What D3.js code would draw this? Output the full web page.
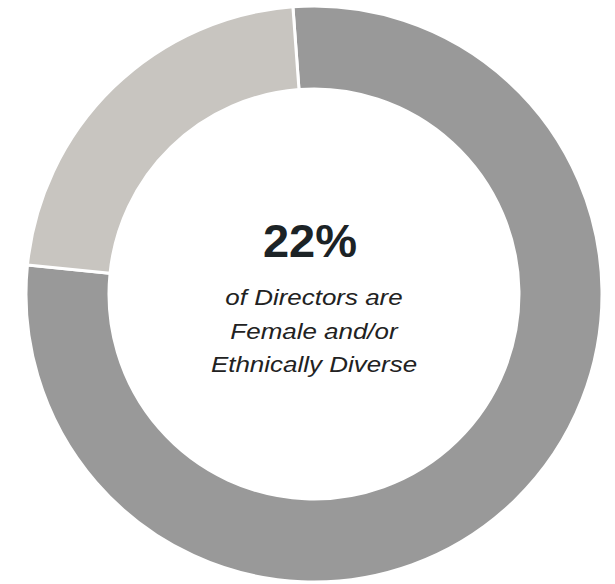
<!DOCTYPE html>
<html>
<head>
<meta charset="utf-8">
<script src="https://cdn.jsdelivr.net/npm/d3@7"></script>
<style>
  html, body { margin: 0; padding: 0; background: #ffffff; }
  svg { display: block; }
</style>
</head>
<body>
<svg id="chart" width="615" height="584"></svg>
<script>
const categories = ["Other Directors", "Female and/or Ethnically Diverse"];
const values = [7, 2];
const colors = ["#999999", "#c8c5c0"];
const headline = "22%";
const captionLines = ["of Directors are", "Female and/or", "Ethnically Diverse"];

const svg = d3.select("#chart");
const cx = 314, cy = 294, outerR = 288, innerR = 205;
const startDeg = -4.2;

const pie = d3.pie().sort(null).value(d => d.v)
  .startAngle(startDeg * Math.PI / 180)
  .endAngle((startDeg + 360) * Math.PI / 180);
const arc = d3.arc().innerRadius(innerR).outerRadius(outerR);
const color = d3.scaleOrdinal().domain(categories).range(colors);

const data = categories.map((c, i) => ({ c, v: values[i] }));
const g = svg.append("g").attr("transform", `translate(${cx},${cy})`);
g.selectAll("path").data(pie(data)).join("path")
  .attr("d", arc)
  .attr("fill", d => color(d.data.c))
  .attr("stroke", "#ffffff")
  .attr("stroke-width", 3)
  .attr("stroke-linejoin", "miter");

svg.append("text")
  .attr("x", 310).attr("y", 257)
  .attr("text-anchor", "middle")
  .attr("font-family", "Liberation Sans, Arial, sans-serif")
  .attr("font-weight", "bold")
  .attr("font-size", 47)
  .attr("fill", "#1c2326")
  .text(headline);

const baselines = [305, 339, 372];
captionLines.forEach((t, i) => {
  svg.append("text")
    .attr("transform", `translate(314,${baselines[i]}) scale(1.18,1)`)
    .attr("text-anchor", "middle")
    .attr("font-family", "Liberation Sans, Arial, sans-serif")
    .attr("font-style", "italic")
    .attr("font-size", 22)
    .attr("fill", "#222222")
    .text(t);
});
</script>
</body>
</html>
